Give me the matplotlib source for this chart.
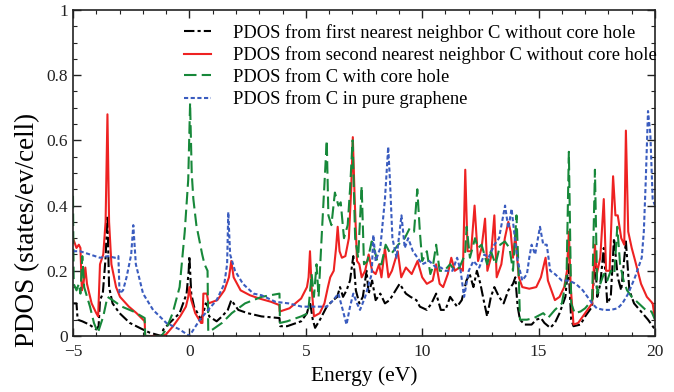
import matplotlib
matplotlib.use("Agg")
import matplotlib.pyplot as plt
from matplotlib.ticker import MultipleLocator, FuncFormatter

plt.rcParams["font.family"] = ["Liberation Serif", "DejaVu Serif"]

# PDOS from first nearest neighbor C without core hole (black, dash-dot)
e_first = [-5.0, -4.85, -4.8, -4.6, -4.3, -4.0, -3.9, -3.84, -3.72, -3.6, -3.52, -3.45, -3.3, -3.0,
           -2.56, -2.0, -1.7, -1.2, -1.12, -0.85, -0.42, -0.12, -0.03, 0.0, 0.08, 0.2, 0.5, 0.6, 0.7,
           0.8, 0.85, 1.17, 1.4, 1.65, 1.8, 2.1, 2.5, 3.1, 3.87, 3.9, 4.2, 4.8, 5.05, 5.18, 5.3, 5.4,
           5.61, 5.9, 6.18, 6.35, 6.47, 6.6, 6.75, 6.9, 7.04, 7.15, 7.3, 7.45, 7.61, 7.7, 7.85, 8.0,
           8.2, 8.4, 8.6, 9.03, 9.3, 9.5, 9.75, 9.9, 10.2, 10.4, 10.6, 10.8, 11.0, 11.2, 11.3, 11.5,
           11.7, 11.9, 12.04, 12.2, 12.35, 12.5, 12.64, 12.79, 12.95, 13.1, 13.3, 13.5, 13.7, 13.9,
           14.0, 14.1, 14.2, 14.4, 14.7, 14.9, 15.1, 15.25, 15.5, 15.7, 15.9, 16.15, 16.28, 16.4,
           16.5, 16.8, 17.0, 17.3, 17.42, 17.52, 17.65, 17.8, 17.95, 18.1, 18.24, 18.4, 18.55, 18.75,
           18.9, 19.1, 19.4, 19.7, 20.0]
pdos_first = [0.10, 0.10, 0.05, 0.045, 0.035, 0.02, 0.03, 0.11, 0.13, 0.24, 0.37, 0.15, 0.10, 0.07,
              0.04, 0.02, 0.01, 0.0, 0.02, 0.04, 0.07, 0.13, 0.20, 0.245, 0.13, 0.09, 0.05, 0.07, 0.10,
              0.09, 0.06, 0.045, 0.06, 0.08, 0.11, 0.08, 0.07, 0.06, 0.055, 0.03, 0.03, 0.045, 0.07,
              0.105, 0.05, 0.025, 0.05, 0.09, 0.11, 0.12, 0.15, 0.12, 0.14, 0.17, 0.245, 0.14, 0.10,
              0.12, 0.20, 0.13, 0.17, 0.11, 0.13, 0.10, 0.11, 0.16, 0.13, 0.12, 0.11, 0.09, 0.08, 0.10,
              0.13, 0.08, 0.08, 0.12, 0.11, 0.09, 0.11, 0.17, 0.19, 0.15, 0.20, 0.16, 0.11, 0.06, 0.12,
              0.15, 0.12, 0.10, 0.14, 0.16, 0.18, 0.09, 0.05, 0.035, 0.035, 0.05, 0.055, 0.04, 0.025,
              0.04, 0.07, 0.12, 0.22, 0.05, 0.03, 0.035, 0.06, 0.09, 0.245, 0.12, 0.16, 0.27, 0.10,
              0.12, 0.30, 0.18, 0.14, 0.29, 0.14, 0.10, 0.075, 0.05, 0.02]

# PDOS from second nearest neighbor C without core hole (red, solid)
e_second = [-5.0, -4.85, -4.75, -4.68, -4.62, -4.55, -4.47, -4.4, -4.2, -4.0, -3.92, -3.84, -3.7,
            -3.6, -3.52, -3.45, -3.35, -3.15, -2.98, -2.6, -2.27, -1.92, -1.9, -1.15, -1.0, -0.7,
            -0.4, -0.15, -0.05, 0.0, 0.08, 0.25, 0.5, 0.56, 0.6, 0.75, 0.82, 1.2, 1.5, 1.7, 1.8, 1.9,
            2.2, 2.6, 3.0, 3.5, 3.86, 3.88, 4.3, 4.8, 5.05, 5.12, 5.18, 5.25, 5.35, 5.6, 5.8, 5.95,
            6.05, 6.2, 6.3, 6.37, 6.45, 6.55, 6.7, 6.85, 6.95, 7.02, 7.1, 7.2, 7.3, 7.4, 7.55, 7.7,
            7.85, 8.0, 8.15, 8.25, 8.4, 8.55, 8.7, 8.95, 9.1, 9.3, 9.55, 9.8, 10.0, 10.2, 10.45, 10.6,
            10.75, 10.9, 11.1, 11.25, 11.4, 11.6, 11.75, 11.85, 11.95, 12.1, 12.25, 12.4, 12.55, 12.7,
            12.8, 12.95, 13.1, 13.2, 13.4, 13.55, 13.7, 13.8, 13.9, 14.0, 14.15, 14.3, 14.6, 14.9,
            15.1, 15.3, 15.4, 15.7, 15.9, 16.1, 16.22, 16.3, 16.38, 16.5, 16.7, 17.0, 17.3, 17.42,
            17.5, 17.65, 17.8, 17.9, 18.05, 18.2, 18.3, 18.4, 18.55, 18.68, 18.75, 18.85, 19.0, 19.15,
            19.4, 19.65, 19.9, 20.0]
pdos_second = [0.30, 0.27, 0.28, 0.27, 0.14, 0.16, 0.21, 0.16, 0.10, 0.07, 0.06, 0.22, 0.25, 0.35,
               0.68, 0.35, 0.22, 0.15, 0.12, 0.09, 0.07, 0.045, 0.0, 0.0, 0.005, 0.03, 0.06, 0.09,
               0.12, 0.15, 0.11, 0.07, 0.04, 0.04, 0.13, 0.13, 0.10, 0.11, 0.14, 0.18, 0.23, 0.18,
               0.14, 0.125, 0.115, 0.105, 0.095, 0.075, 0.085, 0.115, 0.15, 0.18, 0.26, 0.15, 0.06,
               0.07, 0.10, 0.15, 0.18, 0.20, 0.27, 0.335, 0.26, 0.24, 0.245, 0.30, 0.45, 0.61, 0.42,
               0.23, 0.22, 0.18, 0.20, 0.25, 0.20, 0.19, 0.22, 0.18, 0.27, 0.18, 0.20, 0.26, 0.18,
               0.21, 0.19, 0.23, 0.18, 0.16, 0.17, 0.22, 0.16, 0.15, 0.19, 0.24, 0.20, 0.21, 0.20,
               0.51, 0.26, 0.26, 0.40, 0.23, 0.27, 0.36, 0.20, 0.24, 0.37, 0.18, 0.22, 0.30, 0.35,
               0.32, 0.24, 0.31, 0.18, 0.15, 0.145, 0.15, 0.18, 0.24, 0.17, 0.11, 0.12, 0.15, 0.20,
               0.32, 0.15, 0.035, 0.04, 0.07, 0.10, 0.28, 0.19, 0.24, 0.42, 0.20, 0.20, 0.49, 0.37,
               0.37, 0.30, 0.28, 0.63, 0.32, 0.27, 0.23, 0.16, 0.12, 0.10, 0.05]

# PDOS from C with core hole (green, dashed)
e_core = [-5.0, -4.97, -4.85, -4.75, -4.68, -4.6, -4.52, -4.27, -4.1, -3.93, -3.7, -3.52, -3.3, -2.9,
          -2.4, -1.92, -1.9, -1.2, -1.0, -0.72, -0.42, -0.2, -0.05, 0.03, 0.1, 0.17, 0.3, 0.55, 0.65,
          0.78, 0.81, 1.0, 1.4, 1.82, 2.39, 3.1, 3.87, 3.89, 4.2, 4.8, 5.1, 5.25, 5.35, 5.46, 5.55,
          5.7, 5.9, 5.97, 6.1, 6.25, 6.4, 6.5, 6.64, 6.8, 6.9, 7.01, 7.12, 7.25, 7.4, 7.5, 7.65, 7.83,
          7.97, 8.1, 8.25, 8.43, 8.65, 8.97, 9.25, 9.46, 9.65, 9.79, 9.9, 10.0, 10.2, 10.35, 10.45,
          10.6, 10.75, 10.95, 11.2, 11.4, 11.6, 11.84, 11.91, 12.05, 12.27, 12.4, 12.55, 12.79, 12.95,
          13.15, 13.35, 13.55, 13.75, 13.9, 14.05, 14.15, 14.2, 14.5, 14.8, 15.2, 15.4, 15.7, 16.0,
          16.2, 16.3, 16.4, 16.55, 16.8, 17.0, 17.3, 17.42, 17.52, 17.65, 17.8, 17.95, 18.1, 18.25,
          18.38, 18.5, 18.65, 18.8, 19.0, 19.3, 19.6, 19.85, 20.0]
pdos_core = [0.43, 0.16, 0.14, 0.16, 0.13, 0.245, 0.15, 0.09, 0.04, 0.01, 0.06, 0.12, 0.11, 0.09,
             0.075, 0.055, 0.0, 0.0, 0.02, 0.07, 0.15, 0.32, 0.48, 0.715, 0.50, 0.42, 0.34, 0.25,
             0.22, 0.20, 0.013, 0.02, 0.04, 0.07, 0.10, 0.12, 0.13, 0.04, 0.045, 0.06, 0.07, 0.19,
             0.12, 0.22, 0.12, 0.33, 0.60, 0.37, 0.34, 0.44, 0.40, 0.41, 0.30, 0.34, 0.45, 0.60,
             0.30, 0.24, 0.46, 0.22, 0.23, 0.29, 0.26, 0.22, 0.22, 0.28, 0.25, 0.28, 0.30, 0.33,
             0.32, 0.45, 0.32, 0.23, 0.26, 0.19, 0.21, 0.28, 0.20, 0.20, 0.22, 0.20, 0.21, 0.25,
             0.335, 0.24, 0.30, 0.27, 0.28, 0.22, 0.26, 0.22, 0.28, 0.29, 0.27, 0.20, 0.37, 0.18,
             0.05, 0.05, 0.055, 0.07, 0.055, 0.08, 0.10, 0.18, 0.565, 0.10, 0.07, 0.075, 0.085,
             0.11, 0.51, 0.13, 0.16, 0.19, 0.17, 0.20, 0.19, 0.335, 0.22, 0.17, 0.14, 0.12, 0.10,
             0.08, 0.075, 0.05]

# PDOS from C in pure graphene (blue, dotted)
e_pure = [-5.0, -4.7, -4.27, -3.84, -3.5, -3.2, -3.05, -3.0, -2.85, -2.7, -2.5, -2.41, -2.3, -1.99,
          -1.56, -0.99, -0.42, 0.0, 0.45, 1.17, 1.5, 1.62, 1.67, 1.75, 1.96, 2.3, 2.75, 3.1, 3.69,
          4.26, 4.83, 5.3, 5.61, 5.9, 6.18, 6.4, 6.55, 6.75, 6.9, 7.04, 7.2, 7.33, 7.55, 7.83, 7.9,
          8.0, 8.2, 8.4, 8.54, 8.62, 8.72, 8.9, 9.11, 9.25, 9.4, 9.6, 10.0, 10.3, 10.6, 10.8, 11.0,
          11.3, 11.5, 11.65, 11.8, 12.0, 12.2, 12.45, 12.67, 12.85, 13.1, 13.3, 13.56, 13.7, 13.84,
          13.98, 14.1, 14.3, 14.5, 14.6, 14.7, 14.85, 15.06, 15.2, 15.35, 15.5, 15.7, 16.0, 16.3,
          16.6, 16.9, 17.1, 17.3, 17.5, 17.8, 18.1, 18.4, 18.6, 18.85, 19.14, 19.43, 19.52, 19.6,
          19.7, 19.8, 19.9, 20.0]
pdos_pure = [0.26, 0.26, 0.25, 0.24, 0.245, 0.24, 0.245, 0.13, 0.14, 0.18, 0.25, 0.34, 0.22, 0.13,
             0.08, 0.04, 0.02, 0.0, 0.05, 0.11, 0.16, 0.22, 0.38, 0.25, 0.20, 0.16, 0.13, 0.125,
             0.105, 0.10, 0.09, 0.09, 0.09, 0.09, 0.11, 0.13, 0.09, 0.035, 0.09, 0.13, 0.10, 0.08,
             0.12, 0.19, 0.31, 0.23, 0.27, 0.42, 0.58, 0.47, 0.30, 0.24, 0.37, 0.27, 0.30, 0.26,
             0.22, 0.23, 0.21, 0.21, 0.20, 0.20, 0.24, 0.20, 0.12, 0.20, 0.23, 0.21, 0.25, 0.24,
             0.28, 0.30, 0.40, 0.33, 0.39, 0.30, 0.23, 0.17, 0.19, 0.24, 0.28, 0.25, 0.335, 0.28,
             0.28, 0.20, 0.19, 0.17, 0.17, 0.16, 0.14, 0.12, 0.10, 0.085, 0.08, 0.08, 0.085, 0.10,
             0.13, 0.18, 0.24, 0.32, 0.47, 0.69, 0.62, 0.42, 0.40]

labels = ["PDOS from first nearest neighbor C without core hole",
          "PDOS from second nearest neighbor C without core hole",
          "PDOS from C with core hole",
          "PDOS from C in pure graphene"]

fig = plt.figure(figsize=(6.74, 3.92), dpi=100)
ax = fig.add_axes([0.1083, 0.1429, 0.8635, 0.8316])

ax.plot(e_first, pdos_first, color="black", lw=1.5, dashes=(5, 1.5, 1.5, 1.5), label=labels[0])
ax.plot(e_second, pdos_second, color="#ee2222", lw=1.5, label=labels[1])
ax.plot(e_core, pdos_core, color="#17883a", lw=1.5, dashes=(6, 2.5), label=labels[2])
ax.plot(e_pure, pdos_pure, color="#3a5cbf", lw=1.5, dashes=(2, 1.2), label=labels[3])

ax.set_xlim(-5, 20)
ax.set_ylim(0, 1)
ax.xaxis.set_major_locator(MultipleLocator(5))
ax.xaxis.set_minor_locator(MultipleLocator(1))
ax.yaxis.set_major_locator(MultipleLocator(0.2))
ax.yaxis.set_minor_locator(MultipleLocator(0.05))
ax.yaxis.set_major_formatter(FuncFormatter(lambda v, p: "%g" % round(v, 2)))
ax.tick_params(which="both", direction="in", top=True, right=True, labelsize=12.5, colors="#222222")
ax.tick_params(which="major", length=6, width=1)
ax.tick_params(which="minor", length=3, width=0.8)
ax.tick_params(axis="x", which="major", pad=6)
for s in ax.spines.values():
    s.set_linewidth(1.2)
    s.set_color("#222222")

ax.set_xlabel("Energy (eV)", fontsize=15.5, labelpad=4)
fig.text(28 / 674, 1 - 230 / 392, "PDOS (states/ev/cell)", rotation=90,
         ha="center", va="center", fontsize=19.5)

ax.legend(loc="upper left", bbox_to_anchor=(0.19, 0.958), frameon=False, fontsize=13.3,
          handlelength=1.5, handletextpad=1.2, labelspacing=0.25, borderpad=0, borderaxespad=0)

fig.savefig("out.png", dpi=100)
